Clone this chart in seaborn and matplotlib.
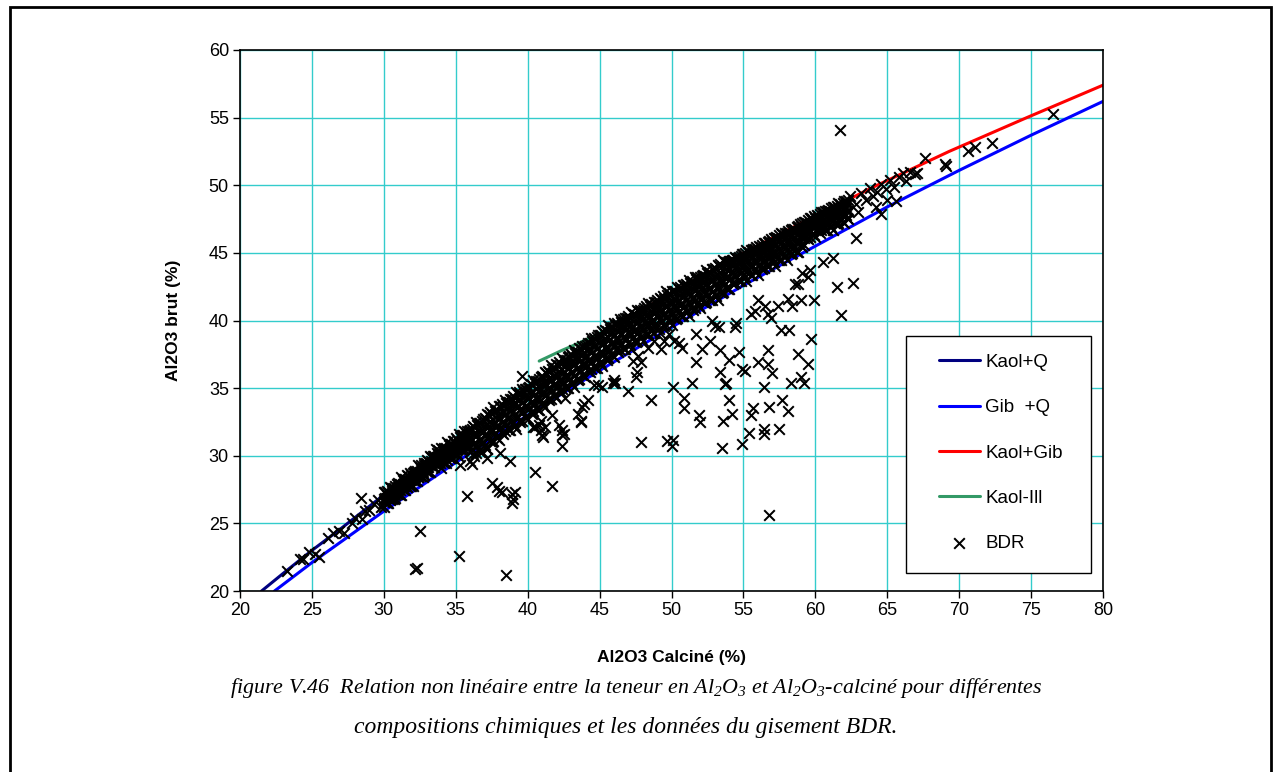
import numpy as np
import pandas as pd
import matplotlib
matplotlib.use("Agg")
import matplotlib.pyplot as plt
from matplotlib.patches import Rectangle
import seaborn as sns

# ---------------- data ----------------
# model curves (Al2O3 calciné %, Al2O3 brut %)
kaolq_x = [21.5, 23.0, 25.0, 27.0, 30.0, 33.0, 35.0, 38.0, 40.0, 43.0, 45.9]
kaolq_y = [20.0, 21.3, 23.0, 24.6, 27.1, 29.6, 31.1, 33.5, 35.0, 37.3, 39.5]

gibq_x = [22.4, 25.0, 30.0, 35.0, 40.0, 45.0, 50.0, 55.0, 60.0, 65.0, 70.0, 75.0, 80.0]
gibq_y = [20.0, 22.1, 25.9, 29.5, 33.0, 36.3, 39.5, 42.6, 45.5, 48.4, 51.1, 53.7, 56.2]

kaolgib_x = [45.9, 50.1, 54.5, 59.2, 64.1, 69.3, 74.7, 80.0]
kaolgib_y = [39.5, 42.1, 44.7, 47.3, 49.9, 52.5, 55.0, 57.4]

kaolill_x = [40.8, 42.4, 43.5, 45.9]
kaolill_y = [37.0, 37.8, 38.3, 39.5]

# BDR deposit data: dense band, set 1 (shared x, several y rows)
band_x = [30.0, 30.4, 30.8, 31.2, 31.6, 32.0, 32.4, 32.8, 33.2, 33.6,
          34.0, 34.4, 34.8, 35.2, 35.6, 36.0, 36.4, 36.8, 37.2, 37.6,
          38.0, 38.4, 38.8, 39.2, 39.6, 40.0, 40.4, 40.8, 41.2, 41.6,
          42.0, 42.4, 42.8, 43.2, 43.6, 44.0, 44.4, 44.8, 45.2, 45.6,
          46.0, 46.4, 46.8, 47.2, 47.6, 48.0, 48.4, 48.8, 49.2, 49.6,
          50.0, 50.4, 50.8, 51.2, 51.6, 52.0, 52.4, 52.8, 53.2, 53.6,
          54.0, 54.4, 54.8, 55.2, 55.6, 56.0, 56.4, 56.8, 57.2, 57.6,
          58.0, 58.4, 58.8, 59.2, 59.6, 60.0, 60.4, 60.8, 61.2, 61.6, 62.0]
band_y_a = [27.3, 27.7, 27.8, 28.4, 28.6, 28.7, 29.3, 29.5, 30.0, 30.5,
            30.6, 31.0, 31.1, 31.6, 31.8, 31.9, 32.5, 32.6, 33.1, 33.6,
            33.7, 34.1, 34.2, 34.7, 34.9, 35.0, 35.6, 35.7, 36.2, 36.7,
            36.8, 37.2, 37.3, 37.8, 38.0, 38.1, 38.7, 38.8, 39.2, 39.7,
            39.8, 40.1, 40.2, 40.6, 40.8, 40.8, 41.3, 41.4, 41.7, 42.2,
            42.2, 42.5, 42.6, 43.0, 43.2, 43.2, 43.7, 43.8, 44.1, 44.5,
            44.4, 44.7, 44.8, 45.2, 45.2, 45.3, 45.7, 45.9, 46.1, 46.5,
            46.5, 46.8, 47.0, 47.3, 47.6, 47.6, 48.0, 48.1, 48.4, 48.7, 48.8]
band_y_b = [26.8, 27.0, 27.5, 27.6, 28.2, 28.4, 28.6, 29.3, 29.5, 29.7,
            30.1, 30.1, 30.7, 30.9, 31.1, 31.4, 31.5, 31.7, 32.3, 32.3,
            32.9, 33.1, 33.3, 33.9, 34.0, 34.2, 34.7, 34.7, 35.4, 35.6,
            35.8, 36.4, 36.5, 36.7, 37.2, 37.2, 37.8, 38.0, 38.2, 38.8,
            38.9, 39.0, 39.5, 39.4, 40.0, 40.1, 40.2, 40.8, 40.8, 41.0,
            41.4, 41.3, 41.9, 42.0, 42.2, 42.7, 42.7, 42.9, 43.3, 43.3,
            43.8, 43.9, 44.1, 44.6, 44.6, 44.7, 45.1, 45.1, 45.6, 45.7,
            45.8, 46.3, 46.4, 46.7, 47.2, 47.1, 47.6, 47.7, 47.8, 48.3, 48.3]
band_y_c = [26.6, 26.7, 27.1, 27.8, 27.7, 28.2, 28.4, 28.6, 29.3, 29.4,
            29.6, 30.1, 30.1, 30.6, 30.8, 30.3, 30.8, 30.9, 31.4, 31.9,
            32.0, 32.4, 32.6, 32.8, 33.3, 33.4, 33.8, 34.3, 34.5, 34.9,
            35.1, 35.3, 35.8, 35.9, 36.3, 36.8, 36.9, 37.3, 37.5, 37.7,
            38.2, 38.2, 38.6, 39.0, 39.1, 39.4, 39.6, 39.6, 40.1, 40.2,
            40.5, 40.9, 41.0, 41.3, 41.5, 41.6, 42.0, 42.1, 42.4, 42.9,
            43.0, 43.3, 43.5, 43.6, 44.0, 44.0, 44.3, 44.8, 44.8, 45.1,
            45.2, 45.3, 45.8, 46.1, 46.6, 47.0, 46.9, 47.3, 47.4, 47.4, 47.9]
band_y_d = [26.2, 26.8, 26.9, 27.1, 27.7, 27.8, 28.4, 28.6, 28.8, 29.4,
            29.1, 29.7, 29.8, 29.9, 30.5, 29.6, 30.2, 30.3, 30.5, 31.1,
            31.2, 31.8, 31.9, 32.0, 32.6, 32.7, 33.3, 33.4, 33.6, 34.2,
            34.3, 34.9, 35.0, 35.1, 35.7, 35.8, 36.4, 36.5, 36.6, 37.2,
            37.3, 37.8, 37.9, 37.9, 38.5, 38.5, 39.0, 39.1, 39.1, 39.7,
            39.7, 40.2, 40.3, 40.3, 40.9, 40.9, 41.4, 41.5, 41.5, 42.1,
            42.3, 42.8, 42.9, 42.9, 43.4, 43.4, 43.9, 44.0, 44.0, 44.5,
            44.5, 45.0, 45.1, 45.6, 46.2, 46.2, 46.7, 46.7, 46.7, 47.2, 47.2]

# BDR dense band, set 2
band_x2 = [30.2, 30.6, 31.0, 31.4, 31.8, 32.2, 32.6, 33.0, 33.4, 33.8,
           34.2, 34.6, 35.0, 35.4, 35.8, 36.2, 36.6, 37.0, 37.4, 37.8,
           38.2, 38.6, 39.0, 39.4, 39.8, 40.2, 40.6, 41.0, 41.4, 41.8,
           42.2, 42.6, 43.0, 43.4, 43.8, 44.2, 44.6, 45.0, 45.4, 45.8,
           46.2, 46.6, 47.0, 47.4, 47.8, 48.2, 48.6, 49.0, 49.4, 49.8,
           50.2, 50.6, 51.0, 51.4, 51.8, 52.2, 52.6, 53.0, 53.4, 53.8,
           54.2, 54.6, 55.0, 55.4, 55.8, 56.2, 56.6, 57.0, 57.4, 57.8,
           58.2, 58.6, 59.0, 59.4, 59.8, 60.2, 60.6, 61.0, 61.4, 61.8, 62.2]
band_y_e = [27.4, 27.6, 28.0, 28.3, 28.7, 28.9, 29.3, 29.7, 30.0, 30.4,
            30.6, 30.9, 31.3, 31.5, 31.8, 32.2, 32.4, 32.8, 33.2, 33.4,
            33.8, 34.0, 34.4, 34.7, 34.9, 35.3, 35.5, 35.9, 36.3, 36.5,
            36.9, 37.1, 37.5, 37.7, 38.1, 38.3, 38.7, 38.9, 39.3, 39.5,
            39.8, 40.1, 40.3, 40.5, 40.8, 41.1, 41.2, 41.5, 41.8, 42.0,
            42.2, 42.5, 42.7, 42.9, 43.2, 43.4, 43.6, 43.9, 44.2, 44.3,
            44.4, 44.6, 44.9, 45.1, 45.3, 45.4, 45.6, 45.9, 46.1, 46.3,
            46.5, 46.7, 47.0, 47.2, 47.5, 47.7, 47.9, 48.1, 48.3, 48.5, 48.7]
band_y_f = [27.1, 27.4, 27.7, 28.1, 28.4, 28.7, 29.0, 29.4, 29.8, 30.1,
            30.3, 30.6, 30.8, 31.2, 31.5, 31.6, 31.9, 32.2, 32.6, 32.9,
            33.2, 33.5, 33.8, 34.1, 34.4, 34.7, 35.0, 35.3, 35.7, 36.0,
            36.3, 36.6, 36.9, 37.2, 37.5, 37.8, 38.1, 38.4, 38.7, 39.0,
            39.2, 39.5, 39.7, 40.0, 40.2, 40.4, 40.7, 40.9, 41.2, 41.4,
            41.6, 41.9, 42.1, 42.4, 42.6, 42.8, 43.1, 43.3, 43.6, 43.8,
            44.1, 44.3, 44.6, 44.8, 45.0, 45.2, 45.4, 45.7, 45.9, 46.1,
            46.3, 46.5, 46.8, 47.1, 47.4, 47.6, 47.8, 48.0, 48.2, 48.4, 48.6]
band_y_g = [26.9, 27.2, 27.5, 27.8, 28.2, 28.4, 28.8, 29.2, 29.5, 29.8,
            30.0, 30.2, 30.5, 30.8, 31.1, 30.9, 31.2, 31.6, 31.9, 32.2,
            32.5, 32.8, 33.2, 33.4, 33.7, 34.0, 34.3, 34.7, 35.0, 35.3,
            35.6, 35.9, 36.2, 36.5, 36.8, 37.1, 37.4, 37.7, 38.0, 38.3,
            38.6, 38.8, 39.1, 39.3, 39.6, 39.8, 40.0, 40.3, 40.5, 40.8,
            41.0, 41.2, 41.5, 41.7, 42.0, 42.2, 42.4, 42.7, 42.9, 43.2,
            43.5, 43.7, 44.0, 44.2, 44.4, 44.6, 44.8, 45.1, 45.3, 45.5,
            45.7, 45.9, 46.2, 46.7, 46.9, 47.1, 47.3, 47.5, 47.7, 47.9, 48.1]
band_y_h = [26.5, 26.8, 27.2, 27.5, 27.8, 28.1, 28.5, 28.9, 29.2, 29.5,
            29.5, 29.8, 30.1, 30.4, 30.7, 30.1, 30.4, 30.8, 31.1, 31.4,
            31.7, 32.0, 32.4, 32.6, 32.9, 33.2, 33.5, 33.9, 34.2, 34.5,
            34.8, 35.1, 35.4, 35.7, 36.0, 36.3, 36.6, 36.9, 37.2, 37.5,
            37.8, 38.0, 38.3, 38.5, 38.8, 39.0, 39.2, 39.5, 39.7, 40.0,
            40.2, 40.4, 40.7, 40.9, 41.2, 41.4, 41.6, 41.9, 42.1, 42.4,
            42.8, 43.0, 43.3, 43.5, 43.7, 43.9, 44.1, 44.4, 44.6, 44.8,
            45.0, 45.2, 45.5, 46.1, 46.4, 46.6, 46.8, 47.0, 47.2, 47.4, 47.6]

# BDR dense band, set 3
band_x3 = [30.1, 30.5, 30.9, 31.3, 31.7, 32.1, 32.5, 32.9, 33.3, 33.7,
           34.1, 34.5, 34.9, 35.3, 35.7, 36.1, 36.5, 36.9, 37.3, 37.7,
           38.1, 38.5, 38.9, 39.3, 39.7, 40.1, 40.5, 40.9, 41.3, 41.7,
           42.1, 42.5, 42.9, 43.3, 43.7, 44.1, 44.5, 44.9, 45.3, 45.7,
           46.1, 46.5, 46.9, 47.3, 47.7, 48.1, 48.5, 48.9, 49.3, 49.7,
           50.1, 50.5, 50.9, 51.3, 51.7, 52.1, 52.5, 52.9, 53.3, 53.7,
           54.1, 54.5, 54.9, 55.3, 55.7, 56.1, 56.5, 56.9, 57.3, 57.7,
           58.1, 58.5, 58.9, 59.3, 59.7, 60.1, 60.5, 60.9, 61.3, 61.7, 62.1]
band_y_i = [27.3, 27.6, 27.9, 28.2, 28.5, 28.8, 29.2, 29.5, 29.9, 30.2,
            30.5, 30.8, 31.1, 31.4, 31.7, 32.0, 32.3, 32.7, 33.0, 33.3,
            33.7, 33.9, 34.2, 34.6, 34.8, 35.1, 35.4, 35.8, 36.1, 36.4,
            36.7, 37.0, 37.4, 37.6, 37.9, 38.2, 38.5, 38.9, 39.1, 39.4,
            39.7, 39.9, 40.2, 40.5, 40.7, 40.9, 41.1, 41.4, 41.6, 41.9,
            42.1, 42.3, 42.6, 42.8, 43.1, 43.3, 43.5, 43.8, 44.0, 44.3,
            44.4, 44.6, 44.9, 45.1, 45.3, 45.5, 45.7, 46.0, 46.2, 46.4,
            46.6, 46.8, 47.1, 47.3, 47.6, 47.8, 48.0, 48.2, 48.4, 48.6, 48.8]
band_y_j = [26.9, 27.2, 27.5, 27.9, 28.2, 28.5, 28.8, 29.2, 29.6, 29.9,
            30.1, 30.4, 30.7, 31.0, 31.3, 31.2, 31.5, 31.8, 32.2, 32.5,
            32.8, 33.1, 33.4, 33.7, 34.0, 34.3, 34.6, 34.9, 35.3, 35.6,
            35.9, 36.2, 36.5, 36.8, 37.1, 37.4, 37.7, 38.0, 38.3, 38.6,
            38.9, 39.1, 39.4, 39.6, 39.9, 40.1, 40.3, 40.6, 40.8, 41.1,
            41.3, 41.5, 41.8, 42.0, 42.3, 42.5, 42.7, 43.0, 43.2, 43.5,
            43.8, 44.0, 44.3, 44.5, 44.7, 44.9, 45.1, 45.4, 45.6, 45.8,
            46.0, 46.2, 46.5, 46.8, 47.1, 47.3, 47.5, 47.7, 47.9, 48.1, 48.3]
band_y_k = [26.6, 26.9, 27.2, 27.6, 27.9, 28.2, 28.5, 28.9, 29.3, 29.6,
            29.6, 29.9, 30.2, 30.5, 30.8, 30.4, 30.7, 31.0, 31.4, 31.7,
            32.0, 32.3, 32.6, 32.9, 33.2, 33.5, 33.8, 34.1, 34.5, 34.8,
            35.1, 35.4, 35.7, 36.0, 36.3, 36.6, 36.9, 37.2, 37.5, 37.8,
            38.1, 38.3, 38.6, 38.8, 39.1, 39.3, 39.5, 39.8, 40.0, 40.3,
            40.5, 40.7, 41.0, 41.2, 41.5, 41.7, 41.9, 42.2, 42.4, 42.7,
            43.1, 43.3, 43.6, 43.8, 44.0, 44.2, 44.4, 44.7, 44.9, 45.1,
            45.3, 45.5, 45.8, 46.3, 46.6, 46.8, 47.0, 47.2, 47.4, 47.6, 47.8]

# BDR dense band, set 4
band_x4 = [30.3, 30.7, 31.1, 31.5, 31.9, 32.3, 32.7, 33.1, 33.5, 33.9,
           34.3, 34.7, 35.1, 35.5, 35.9, 36.3, 36.7, 37.1, 37.5, 37.9,
           38.3, 38.7, 39.1, 39.5, 39.9, 40.3, 40.7, 41.1, 41.5, 41.9,
           42.3, 42.7, 43.1, 43.5, 43.9, 44.3, 44.7, 45.1, 45.5, 45.9,
           46.3, 46.7, 47.1, 47.5, 47.9, 48.3, 48.7, 49.1, 49.5, 49.9,
           50.3, 50.7, 51.1, 51.5, 51.9, 52.3, 52.7, 53.1, 53.5, 53.9,
           54.3, 54.7, 55.1, 55.5, 55.9, 56.3, 56.7, 57.1, 57.5, 57.9,
           58.3, 58.7, 59.1, 59.5, 59.9, 60.3, 60.7, 61.1, 61.5, 61.9, 62.3]
band_y_l = [27.3, 27.6, 27.9, 28.3, 28.6, 28.9, 29.2, 29.6, 30.0, 30.3,
            30.6, 30.9, 31.2, 31.5, 31.8, 32.1, 32.4, 32.7, 33.1, 33.4,
            33.7, 34.0, 34.3, 34.6, 34.9, 35.2, 35.5, 35.8, 36.2, 36.5,
            36.8, 37.1, 37.4, 37.7, 38.0, 38.3, 38.6, 38.9, 39.2, 39.5,
            39.7, 39.9, 40.2, 40.4, 40.7, 40.9, 41.1, 41.4, 41.6, 41.9,
            42.1, 42.3, 42.6, 42.8, 43.1, 43.3, 43.5, 43.8, 44.0, 44.3,
            44.5, 44.7, 45.0, 45.2, 45.4, 45.6, 45.8, 46.1, 46.3, 46.5,
            46.7, 46.9, 47.2, 47.4, 47.7, 47.9, 48.1, 48.3, 48.5, 48.7, 48.9]
band_y_m = [26.9, 27.2, 27.5, 27.9, 28.2, 28.5, 28.8, 29.2, 29.6, 29.9,
            30.0, 30.3, 30.6, 30.9, 31.2, 30.9, 31.2, 31.5, 31.9, 32.2,
            32.5, 32.8, 33.1, 33.4, 33.7, 34.0, 34.3, 34.6, 35.0, 35.3,
            35.6, 35.9, 36.2, 36.5, 36.8, 37.1, 37.4, 37.7, 38.0, 38.3,
            38.6, 38.8, 39.1, 39.3, 39.6, 39.8, 40.0, 40.3, 40.5, 40.8,
            41.0, 41.2, 41.5, 41.7, 42.0, 42.2, 42.4, 42.7, 42.9, 43.2,
            43.5, 43.7, 44.0, 44.2, 44.4, 44.6, 44.8, 45.1, 45.3, 45.5,
            45.7, 45.9, 46.2, 46.6, 46.9, 47.1, 47.3, 47.5, 47.7, 47.9, 48.1]
band_y_n = [26.5, 26.8, 27.1, 27.5, 27.8, 28.1, 28.4, 28.8, 29.2, 29.5,
            29.5, 29.8, 30.1, 30.4, 30.7, 30.0, 30.3, 30.6, 31.0, 31.3,
            31.6, 31.9, 32.2, 32.5, 32.8, 33.1, 33.4, 33.7, 34.1, 34.4,
            34.7, 35.0, 35.3, 35.6, 35.9, 36.2, 36.5, 36.8, 37.1, 37.4,
            37.7, 37.9, 38.2, 38.4, 38.7, 38.9, 39.1, 39.4, 39.6, 39.9,
            40.1, 40.3, 40.6, 40.8, 41.1, 41.3, 41.5, 41.8, 42.0, 42.3,
            42.7, 42.9, 43.2, 43.4, 43.6, 43.8, 44.0, 44.3, 44.5, 44.7,
            44.9, 45.1, 45.4, 46.0, 46.3, 46.5, 46.7, 46.9, 47.1, 47.3, 47.5]

# BDR: sparse low end
low_x = [23.3, 24.2, 24.4, 24.8, 25.2, 25.5, 26.1, 26.5, 26.9, 27.2,
         27.8, 28.0, 28.4, 28.5, 28.7, 29.0, 29.3, 29.6, 29.8]
low_y = [21.5, 22.4, 22.4, 22.9, 22.7, 22.5, 23.9, 24.3, 24.4, 24.3,
         25.0, 25.4, 26.9, 25.3, 25.9, 26.0, 26.4, 26.7, 26.2]

# BDR: high end
high_x = [62.4, 62.8, 63.2, 63.5, 63.8, 64.0, 64.3, 64.6, 64.9, 65.2,
          65.5, 65.8, 66.1, 66.3, 66.6, 66.9, 67.1, 67.6, 69.0, 69.1,
          70.6, 71.1, 72.3, 76.5, 62.8, 64.6, 65.6, 64.2, 65.0, 63.0, 61.7]
high_y = [49.2, 48.6, 49.4, 48.9, 49.8, 49.2, 49.5, 50.1, 49.7, 50.4,
          49.9, 50.6, 50.9, 50.3, 51.0, 50.8, 50.9, 52.0, 51.6, 51.4,
          52.5, 52.8, 53.1, 55.3, 46.1, 47.9, 48.8, 48.4, 48.9, 48.0, 54.1]

# BDR: scattered samples below the trend
out_x = [32.2, 32.3, 32.5, 35.2, 38.5, 38.9, 39.0, 38.9, 39.1, 38.2,
         35.8, 37.5, 37.9, 38.0, 38.1, 38.8, 37.2, 35.3, 36.1, 40.5,
         41.7, 56.8, 49.7, 50.0, 50.1, 47.9, 53.5, 54.9, 55.4, 56.4,
         56.4, 57.5, 55.5, 53.6, 54.2, 52.0, 51.9, 48.6, 50.1, 50.9,
         50.9, 51.4, 54.0, 53.8, 55.7, 56.8, 57.7, 58.1, 56.4, 57.6,
         58.2, 59.7, 59.5, 58.8, 59.0, 58.3, 59.2, 56.0, 56.7, 57.0,
         56.7, 54.9, 55.1, 53.4, 53.7, 54.0, 53.4, 54.7, 52.1, 51.7,
         51.7, 47.0, 46.0, 45.9, 47.5, 47.6, 44.9, 43.9, 43.8, 43.7,
         42.4, 42.4, 40.9, 41.0, 40.5, 42.2, 41.7, 47.9, 47.7, 48.8,
         49.3, 50.2, 50.7, 52.8, 53.0, 54.4, 54.5, 55.5, 55.8, 56.7,
         56.9, 56.5, 56.0, 57.4, 58.1, 58.4, 59.0, 59.9, 58.6, 58.8,
         59.1, 59.5, 59.6, 60.5, 61.2, 61.5, 62.6, 61.8, 42.4, 42.5,
         40.8, 41.2, 43.5, 44.2, 44.6, 45.2, 46.1, 47.3, 47.9, 48.4,
         49.5, 50.5, 49.8, 52.7, 53.3, 39.6, 42.6, 43.7, 40.4, 41.1, 40.9]
out_y = [21.6, 21.7, 24.4, 22.6, 21.2, 27.2, 26.8, 26.5, 27.3, 27.3,
         27.0, 28.0, 27.7, 27.4, 30.2, 29.6, 29.8, 29.3, 29.4, 28.8,
         27.8, 25.6, 31.1, 30.7, 31.2, 31.0, 30.6, 30.9, 31.7, 32.0,
         31.6, 32.0, 33.0, 32.6, 33.1, 32.5, 33.0, 34.1, 35.1, 34.3,
         33.5, 35.4, 34.1, 35.4, 33.5, 33.6, 34.1, 33.3, 35.1, 39.3,
         39.3, 38.6, 36.8, 37.5, 35.8, 35.4, 35.4, 36.9, 36.8, 36.1,
         37.8, 36.4, 36.3, 36.2, 35.3, 37.1, 37.8, 37.7, 37.9, 36.9,
         39.0, 34.8, 35.6, 35.4, 35.8, 36.2, 35.2, 33.8, 33.6, 32.6,
         31.5, 30.7, 31.9, 31.5, 32.1, 32.3, 33.0, 39.5, 37.4, 38.5,
         37.9, 38.5, 38.0, 40.0, 39.6, 39.5, 39.8, 40.5, 40.7, 40.5,
         40.2, 41.1, 41.5, 41.1, 41.6, 41.1, 41.5, 41.5, 42.7, 42.7,
         43.5, 43.2, 43.7, 44.3, 44.6, 42.5, 42.8, 40.4, 31.9, 31.6,
         32.3, 32.1, 33.1, 34.1, 35.2, 35.1, 35.4, 37.0, 36.9, 38.0,
         38.5, 38.3, 39.0, 38.5, 39.5, 35.9, 34.3, 32.5, 32.1, 31.4, 32.6]

x_ticks = [20, 25, 30, 35, 40, 45, 50, 55, 60, 65, 70, 75, 80]
y_ticks = [20, 25, 30, 35, 40, 45, 50, 55, 60]

# ---------------- build table ----------------
parts = []
for xs, rows in [(band_x, [band_y_a, band_y_b, band_y_c, band_y_d]),
                 (band_x2, [band_y_e, band_y_f, band_y_g, band_y_h]),
                 (band_x3, [band_y_i, band_y_j, band_y_k]),
                 (band_x4, [band_y_l, band_y_m, band_y_n])]:
    for ys in rows:
        parts.append(pd.DataFrame({"calc": xs, "brut": ys}))
parts.append(pd.DataFrame({"calc": low_x, "brut": low_y}))
parts.append(pd.DataFrame({"calc": high_x, "brut": high_y}))
parts.append(pd.DataFrame({"calc": out_x, "brut": out_y}))
bdr = pd.concat(parts, ignore_index=True)

# ---------------- plot ----------------
sns.set_style("ticks")
plt.rcParams["font.family"] = ["Liberation Sans", "DejaVu Sans"]
plt.rcParams["text.color"] = "black"
plt.rcParams["axes.labelcolor"] = "black"
plt.rcParams["xtick.color"] = "black"
plt.rcParams["ytick.color"] = "black"
plt.rcParams["mathtext.fontset"] = "custom"
plt.rcParams["mathtext.rm"] = "Liberation Serif:italic"
plt.rcParams["mathtext.it"] = "Liberation Serif:italic"

fig = plt.figure(figsize=(12.73, 7.72), dpi=100)
ax = fig.add_axes([240 / 1273, 1 - 591 / 772, 863 / 1273, 541 / 772])

lw = 2.2
sns.lineplot(x=kaolq_x, y=kaolq_y, color="#000080", lw=lw, label="Kaol+Q", sort=False, ax=ax, zorder=2)
sns.lineplot(x=gibq_x, y=gibq_y, color="#0000FF", lw=lw, label="Gib  +Q", sort=False, ax=ax, zorder=2)
sns.lineplot(x=kaolgib_x, y=kaolgib_y, color="#FF0000", lw=lw, label="Kaol+Gib", sort=False, ax=ax, zorder=2)
sns.lineplot(x=kaolill_x, y=kaolill_y, color="#339966", lw=lw, label="Kaol-Ill", sort=False, ax=ax, zorder=2)
sns.scatterplot(data=bdr, x="calc", y="brut", marker="x", color="black", s=58,
                linewidth=1.45, label="BDR", ax=ax, zorder=3)

ax.set_xlim(20, 80)
ax.set_ylim(20, 60)
ax.set_xticks(x_ticks)
ax.set_yticks(y_ticks)
ax.grid(True, color="#33CCCC", lw=1.0, zorder=0)
ax.set_axisbelow(True)
for s in ax.spines.values():
    s.set_color("black")
    s.set_linewidth(1.2)
ax.tick_params(axis="both", direction="out", length=5, width=1.0, labelsize=13,
               colors="black", pad=3)
ax.set_xlabel("Al2O3 Calciné (%)", fontsize=12.5, fontweight="bold", labelpad=22)
ax.set_ylabel("Al2O3 brut (%)", fontsize=12.5, fontweight="bold", labelpad=20)

# legend with its own framed box
leg_box = Rectangle(((906 - 240) / 863, (591 - 573) / 541), (1091 - 906) / 863,
                    (573 - 336) / 541, transform=ax.transAxes, facecolor="white",
                    edgecolor="black", lw=1.0, zorder=4)
ax.add_patch(leg_box)
h, l = ax.get_legend_handles_labels()
leg = ax.legend(h, l, loc="upper left", bbox_to_anchor=(0.8095, 0.439), frameon=False,
                fontsize=13.5, handlelength=2.22, handletextpad=0.27, labelspacing=1.51,
                borderpad=0, borderaxespad=0)
leg.set_zorder(5)

# page border (left, top, right)
fig.patches.append(Rectangle((10 / 1273, -0.05), (1271 - 10) / 1273, 1.05 - 7 / 772,
                             transform=fig.transFigure, fill=False, edgecolor="black",
                             lw=2.0))

cap1 = r"figure V.46  Relation non linéaire entre la teneur en Al$_2$O$_3$ et Al$_2$O$_3$-calciné pour différentes"
cap2 = "compositions chimiques et les données du gisement BDR."
fig.text(636 / 1273, 1 - 688 / 772, cap1, ha="center", va="center", fontsize=15.8,
         family="Liberation Serif", style="italic")
fig.text(626 / 1273, 1 - 728 / 772, cap2, ha="center", va="center", fontsize=17,
         family="Liberation Serif", style="italic")

fig.savefig("out.png", dpi=100)
